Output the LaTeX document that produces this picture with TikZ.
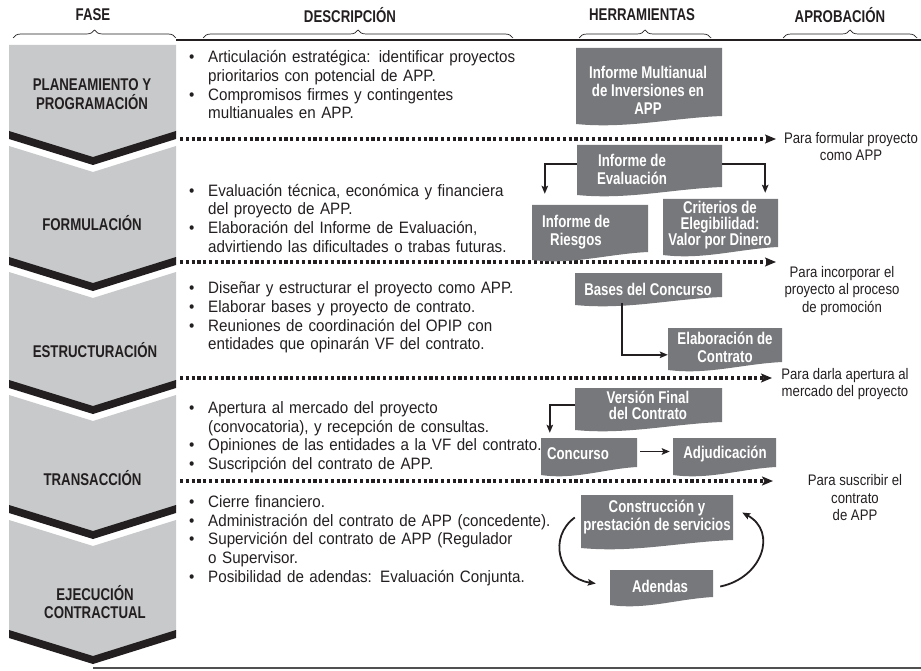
\documentclass[tikz,border=0pt]{standalone}
\usepackage{fontspec}
\setmainfont{Liberation Sans}
\newfontfamily\condfont[FakeStretch=0.78]{Liberation Sans}
\newfontfamily\descfont[FakeStretch=0.92]{Liberation Sans}
\newfontfamily\apfont[FakeStretch=0.86]{Liberation Sans}
\usetikzlibrary{arrows.meta,calc,fit,decorations.pathreplacing}
\definecolor{chevgray}{RGB}{200,201,203}
\definecolor{toolgray}{RGB}{119,120,123}
\definecolor{ink}{RGB}{35,31,32}
\definecolor{baseline}{RGB}{80,80,80}
\newcommand\itm[1]{\par\noindent\hangindent=22pt\hangafter=1\makebox[22pt][l]{\hspace{3pt}\textbullet}\strut#1\strut\par}
\newcommand\tooldoc[5]{%
  \fill[toolgray] (#2,#3) -- (#4,#3) -- (#4,#5) .. controls ({#2+0.65*(#4-#2)},{#5+2}) and ({#2+0.35*(#4-#2)},{#5+13}) .. (#2,{#5+8}) -- cycle;
  \node[toolbox, fit={(#2,#3) (#4,#5)}] (#1) {};}
\newcommand\chevband[1]{%
  \fill[ink] (9,#1) -- (93,{#1+26}) -- (176,#1) -- (176,{#1+8}) -- (93,{#1+34}) -- (9,{#1+8}) -- cycle;}
\newcommand\chevblock[2]{%
  \fill[chevgray] (9,{#1+15}) -- (93,{#1+41}) -- (176,{#1+15}) -- (176,{#2+4}) -- (93,{#2+30}) -- (9,{#2+4}) -- cycle;}
\tikzset{
  hdr/.style={font=\condfont\bfseries\fontsize{17}{18}\selectfont, text=ink, inner sep=0},
  phase/.style={font=\condfont\bfseries\fontsize{17}{18.5}\selectfont, align=center, text=ink, inner sep=0},
  desc/.style={font=\descfont\fontsize{16.5}{18.7}\selectfont, text width=430pt, anchor=north west, inner sep=0, text=ink},
  appr/.style={font=\apfont\fontsize{15.3}{17.6}\selectfont, align=center, anchor=north, inner sep=0, text=ink},
  tooltxt/.style={font=\condfont\bfseries\fontsize{17}{18}\selectfont, text=white, align=center, inner sep=0},
  tighttxt/.style={tooltxt, font=\condfont\bfseries\fontsize{17}{16}\selectfont},
  toolbox/.style={inner sep=0, draw=none},
  dotarrow/.style={line width=3.2pt, dash pattern=on 3.2pt off 2.6pt, draw=ink, -{Stealth[length=11pt,width=9pt,inset=2.5pt]}},
  conn/.style={line width=1.8pt, draw=ink, -{Stealth[length=8pt,width=6.5pt,inset=1.5pt]}},
  brc/.style={decorate, decoration={brace, amplitude=8pt}, line width=0.7pt, draw=ink},
}
\begin{document}
\begin{tikzpicture}[x=1pt,y=-1pt]
\useasboundingbox (0,0) rectangle (921,671);
% ---------- header ----------
\node[hdr] (hfase) at (93,15) {FASE};
\node[hdr] (hdesc) at (350,15) {DESCRIPCIÓN};
\node[hdr] (hherr) at (642,15) {HERRAMIENTAS};
\node[hdr] (haprob) at (840,15) {APROBACIÓN};
\draw[brc] (13,38) -- (176,38);
\draw[brc] (203,38) -- (513,38);
\draw[brc] (579,38) -- (711,38);
\draw[brc] (783,38) -- (917,38);
\draw[draw=ink, line width=2.5pt] (176,40) -- (921,40);
% ---------- chevron column ----------
\fill[chevgray] (9,45) -- (176,45) -- (176,135) -- (93,161) -- (9,135) -- cycle;
\chevblock{131}{257}
\chevblock{257}{380}
\chevblock{380}{505}
\chevblock{505}{630}
\chevband{131}
\chevband{257}
\chevband{380}
\chevband{505}
\chevband{630}
\draw[draw=baseline, line width=1.6pt] (93,668) -- (921,668);
\node[phase] (p1) at (92,94) {PLANEAMIENTO Y\\PROGRAMACIÓN};
\node[phase] (p2) at (92,223) {FORMULACIÓN};
\node[phase] (p3) at (95,350) {ESTRUCTURACIÓN};
\node[phase] (p4) at (92.5,478) {TRANSACCIÓN};
\node[phase] (p5) at (95,602) {EJECUCIÓN\\CONTRACTUAL};
% ---------- descriptions ----------
\node[desc] (d1) at (186,43.9) {%
\itm{Articulación estratégica: identificar proyectos\newline prioritarios con potencial de APP.}
\itm{Compromisos firmes y contingentes\newline multianuales en APP.}};
\node[desc] (d2) at (186,177.4) {%
\itm{Evaluación técnica, económica y financiera\newline del proyecto de APP.}
\itm{Elaboración del Informe de Evaluación,\newline advirtiendo las dificultades o trabas futuras.}};
\node[desc] (d3) at (186,274.9) {%
\itm{Diseñar y estructurar el proyecto como APP.}
\itm{Elaborar bases y proyecto de contrato.}
\itm{Reuniones de coordinación del OPIP con\newline entidades que opinarán VF del contrato.}};
\node[desc] (d4) at (186,394.4) {%
\itm{Apertura al mercado del proyecto\newline (convocatoria), y recepción de consultas.}
\itm{Opiniones de las entidades a la VF del contrato.}
\itm{Suscripción del contrato de APP.}};
\node[desc] (d5) at (186,488.4) {%
\itm{Cierre financiero.}
\itm{Administración del contrato de APP (concedente).}
\itm{Supervición del contrato de APP (Regulador\newline o Supervisor.}
\itm{Posibilidad de adendas: Evaluación Conjunta.}};
% ---------- dotted approval arrows ----------
\coordinate (a1s) at (180,139); \coordinate (a1e) at (776,139);
\coordinate (a2s) at (180,262); \coordinate (a2e) at (776,262);
\coordinate (a3s) at (180,378); \coordinate (a3e) at (772,378);
\coordinate (a4s) at (180,481); \coordinate (a4e) at (773,481);
\draw[dotarrow] (a1s) -- (a1e);
\draw[dotarrow] (a2s) -- (a2e);
\draw[dotarrow] (a3s) -- (a3e);
\draw[dotarrow] (a4s) -- (a4e);
\node[appr] (ap1) at (851,130.5) {\strut Para formular proyecto\\como APP};
\node[appr] (ap2) at (842,264.5) {\strut Para incorporar el\\proyecto al proceso\\de promoción};
\node[appr] (ap3) at (845,366.5) {\strut Para darla apertura al\\mercado del proyecto};
\node[appr] (ap4) at (855,473) {\strut Para suscribir el\\contrato\\de APP};
% ---------- tools ----------
\tooldoc{multi}{576}{48}{722}{116}
\tooldoc{eval}{577}{145}{722}{187}
\tooldoc{riesgos}{532}{205}{648}{252}
\tooldoc{crit}{663}{199}{778}{247}
\tooldoc{bases}{575}{273}{722}{297}
\tooldoc{elab}{668}{328}{782}{362}
\tooldoc{version}{575}{388}{722}{422}
\tooldoc{concurso}{541}{438}{637}{467}
\tooldoc{adj}{673}{438}{776}{467}
\tooldoc{constr}{581}{495}{733}{540}
\tooldoc{adendas}{610}{570}{713}{597}
\node[tooltxt] (multi-t) at (648,90) {Informe Multianual\\de Inversiones en\\APP};
\node[tooltxt] (eval-t) at (632,169) {Informe de\\Evaluación};
\node[tooltxt] (riesgos-t) at (576,232.5) {Informe de\\Riesgos};
\node[tighttxt] (crit-t) at (720,225.5) {Criterios de\\Elegibilidad:\\Valor por Dinero};
\node[tooltxt] (bases-t) at (648,289) {Bases del Concurso};
\node[tooltxt] (elab-t) at (725,347.5) {Elaboración de\\Contrato};
\node[tighttxt] (version-t) at (648,405) {Versión Final\\del Contrato};
\node[tooltxt] (concurso-t) at (578,454) {Concurso};
\node[tooltxt] (adj-t) at (725,454) {Adjudicación};
\node[tooltxt] (constr-t) at (657,517.5) {Construcción y\\prestación de servicios};
\node[tooltxt] (adendas-t) at (660,586) {Adendas};
% ---------- connectors ----------
\draw[conn] ($(eval.north west)+(0,19)$) -| ($(riesgos.north west)+(13,-11)$);
\draw[conn] ($(eval.north east)+(0,19)$) -| ($(crit.north east)+(-13,-6)$);
\draw[conn] ($(bases.south west)+(47,6)$) |- ($(elab.north west)+(0,27)$);
\draw[conn] ($(version.north west)+(0,17)$) -| ($(concurso.north west)+(9,-5)$);
\draw[conn] ($(concurso.east)+(3,-1)$) -- ($(adj.west)+(-3,-1)$);
\draw[conn] ($(constr.west)+(-6,0)$) .. controls (548,537) and (558,578) .. ($(adendas.west)+(-14,0)$);
\draw[conn] ($(adendas.east)+(7,3)$) .. controls (762,578) and (778,532) .. ($(constr.east)+(9,-5)$);
\end{tikzpicture}
\end{document}
